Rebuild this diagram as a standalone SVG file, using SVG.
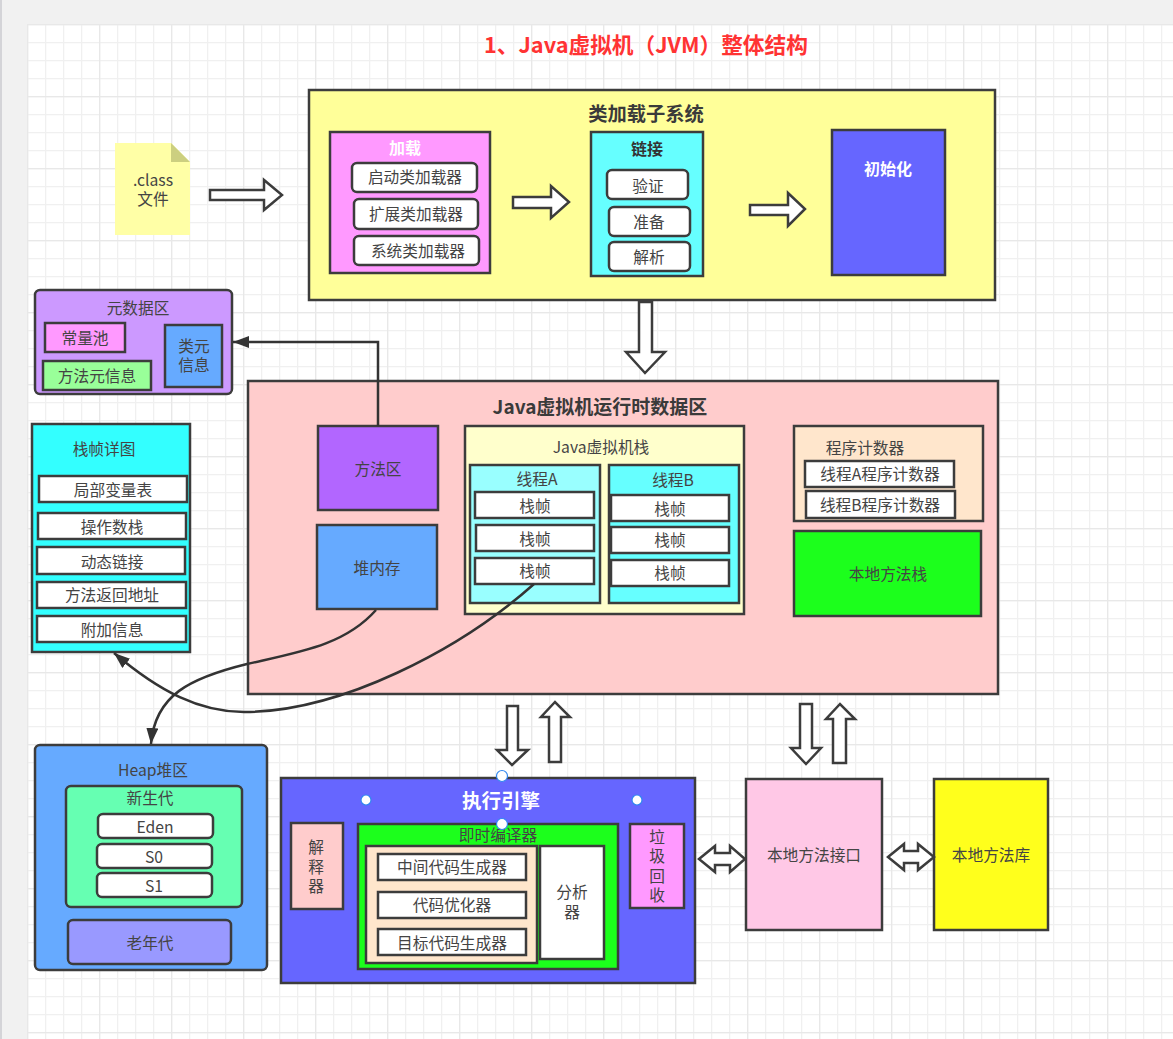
<svg xmlns="http://www.w3.org/2000/svg" width="1173" height="1039" viewBox="0 0 1173 1039">
<style>
text{font-family:"Noto Sans CJK SC","Liberation Sans",sans-serif;fill:#444;font-size:15.7px;text-anchor:middle}
.b{stroke:#3c3c3c;stroke-width:2.5}
.w{fill:#fff}
.t{font-weight:700;font-size:19px;fill:#3a3a3a}
.wt{font-weight:700;font-size:16px;fill:#fff}
.ar{fill:#fff;stroke:#3c3c3c;stroke-width:2.5}
.c{fill:none;stroke:#333;stroke-width:2.5}
.h{fill:#fff;stroke:#2f86f0;stroke-width:1.2}
</style>
<defs>
<pattern id="g1" x="27" y="24" width="18" height="18" patternUnits="userSpaceOnUse"><path d="M0.5 0V18M0 0.5H18" fill="none" stroke="#f0f0f0" stroke-width="1.5"/></pattern>
<pattern id="g2" x="27" y="24" width="72" height="72" patternUnits="userSpaceOnUse"><path d="M0.5 0V72M0 0.5H72" fill="none" stroke="#e8e8e8" stroke-width="1.5"/></pattern>
<marker id="m" markerUnits="userSpaceOnUse" markerWidth="18" markerHeight="14" refX="16" refY="6" orient="auto"><path d="M0 0L16 6L0 12Z" fill="#333"/></marker>
</defs>
<rect width="1173" height="1039" fill="#f1f1f1"/>
<rect width="2" height="1039" fill="#d4d4d8"/>
<rect x="27" y="24" width="1146" height="1015" fill="#fff"/>
<rect x="27" y="24" width="1146" height="1015" fill="url(#g1)"/>
<rect x="27" y="24" width="1146" height="1015" fill="url(#g2)"/>
<text x="646" y="53" style="font-size:21.7px;fill:#ff3333;font-weight:700">1、Java虚拟机（JVM）整体结构</text>

<g id="class-file"><path d="M115 143H171L190 162V235H115Z" fill="#ffffa6"/><path d="M171 143L190 162H171Z" fill="#cccf80"/><text x="153" y="186">.class<tspan x="153" dy="18.500">文件</tspan></text></g>

<g id="loader">
<rect x="309" y="90" width="686" height="210" fill="#ffff99" class="b"/>
<text x="646" y="121" class="t" style="font-size:19.3px">类加载子系统</text>
<g id="load"><rect x="330" y="132" width="160" height="141" fill="#ff99ff" class="b"/><text x="405" y="154" class="wt">加载</text>
<rect x="352" y="163" width="125" height="29" rx="5" class="b w"/><text x="415" y="183">启动类加载器</text>
<rect x="354" y="199" width="124" height="30" rx="5" class="b w"/><text x="416" y="220">扩展类加载器</text>
<rect x="354" y="236" width="125" height="29" rx="5" class="b w"/><text x="418" y="257">系统类加载器</text></g>
<g id="link"><rect x="591" y="132" width="112" height="144" fill="#66ffff" class="b"/><text x="647" y="155" class="wt" style="fill:#333">链接</text>
<rect x="607" y="170" width="81" height="29" rx="5" class="b w"/><text x="648" y="192">验证</text>
<rect x="609" y="207" width="81" height="29" rx="5" class="b w"/><text x="649" y="228">准备</text>
<rect x="609" y="242" width="81" height="29" rx="5" class="b w"/><text x="649" y="263">解析</text></g>
<g id="init"><rect x="832" y="130" width="113" height="145" fill="#6666ff" class="b"/><text x="888" y="175" class="wt">初始化</text></g>
</g>

<g id="meta">
<rect x="35" y="290" width="197" height="104" rx="5" fill="#cc99ff" class="b"/>
<text x="138" y="314">元数据区</text>
<rect x="45" y="323" width="80" height="29" fill="#ff99ff" class="b"/><text x="85" y="344">常量池</text>
<rect x="43" y="361" width="108" height="29" fill="#99ff99" class="b"/><text x="97" y="382">方法元信息</text>
<rect x="165" y="325" width="57" height="62" fill="#66aaff" class="b"/><text x="194" y="352">类元<tspan x="194" dy="19">信息</tspan></text>
</g>

<g id="frame">
<rect x="32" y="424" width="158" height="228" fill="#33ffff" class="b"/>
<text x="104" y="455">栈帧详图</text>
<rect x="39" y="476" width="148" height="26" class="b w"/><text x="113" y="496">局部变量表</text>
<rect x="38" y="513" width="148" height="26" class="b w"/><text x="112" y="533">操作数栈</text>
<rect x="37" y="547" width="148" height="27" class="b w"/><text x="112" y="568">动态链接</text>
<rect x="37" y="582" width="149" height="26" class="b w"/><text x="112" y="601">方法返回地址</text>
<rect x="37" y="616" width="149" height="26" class="b w"/><text x="112" y="636">附加信息</text>
</g>

<g id="runtime">
<rect x="248" y="381" width="750" height="313" fill="#ffcccc" class="b"/>
<text x="600" y="414" class="t">Java虚拟机运行时数据区</text>
<g id="method-area"><rect x="318" y="426" width="120" height="84" fill="#b266ff" class="b"/><text x="378" y="475">方法区</text></g>
<g id="heap-mem"><rect x="317" y="525" width="120" height="84" fill="#66aaff" class="b"/><text x="377" y="574">堆内存</text></g>
<g id="stack"><rect x="465" y="426" width="279" height="188" fill="#ffffcc" class="b"/><text x="601" y="453">Java虚拟机栈</text>
<rect x="470" y="465" width="130" height="138" fill="#99ffff" class="b"/><text x="537" y="485">线程A</text>
<rect x="475" y="492" width="119" height="26" class="b w"/><text x="535" y="512">栈帧</text>
<rect x="476" y="525" width="118" height="26" class="b w"/><text x="535" y="545">栈帧</text>
<rect x="475" y="558" width="119" height="26" class="b w"/><text x="535" y="577">栈帧</text>
<rect x="609" y="465" width="130" height="138" fill="#66ffff" class="b"/><text x="673" y="486">线程B</text>
<rect x="611" y="495" width="118" height="26" class="b w"/><text x="670" y="515">栈帧</text>
<rect x="611" y="527" width="118" height="26" class="b w"/><text x="670" y="546">栈帧</text>
<rect x="611" y="560" width="118" height="26" class="b w"/><text x="670" y="579">栈帧</text></g>
<g id="pc"><rect x="794" y="426" width="189" height="95" fill="#ffe6cc" class="b"/><text x="865" y="454">程序计数器</text>
<rect x="805" y="461" width="149" height="26" class="b w"/><text x="880" y="480">线程A程序计数器</text>
<rect x="806" y="491" width="149" height="27" class="b w"/><text x="880" y="511">线程B程序计数器</text></g>
<g id="native-stack"><rect x="794" y="531" width="187" height="85" fill="#1cff1c" class="b"/><text x="888" y="580">本地方法栈</text></g>
</g>

<g id="heap">
<rect x="35" y="745" width="232" height="225" rx="5" fill="#66aaff" class="b"/>
<text x="153" y="776">Heap堆区</text>
<rect x="66" y="786" width="176" height="121" rx="5" fill="#66ffb2" class="b"/><text x="150" y="804">新生代</text>
<rect x="98" y="814" width="115" height="24" rx="5" class="b w"/><text x="155" y="833">Eden</text>
<rect x="97" y="844" width="115" height="24" rx="5" class="b w"/><text x="154" y="863">S0</text>
<rect x="97" y="873" width="115" height="24" rx="5" class="b w"/><text x="154" y="892">S1</text>
<rect x="68" y="920" width="163" height="44" rx="5" fill="#9999ff" class="b"/><text x="150" y="949">老年代</text>
</g>

<g id="engine">
<rect x="281" y="778" width="414" height="205" fill="#6666ff" class="b"/>
<text x="501" y="808" class="t" style="fill:#fff;font-size:19.5px">执行引擎</text>
<rect x="291" y="823" width="52" height="86" fill="#ffcccc" class="b"/><text x="316" y="853">解<tspan x="316" dy="20">释</tspan><tspan x="316" dy="19">器</tspan></text>
<rect x="358" y="824" width="260" height="145" fill="#1cff1c" class="b"/><text x="498" y="841">即时编译器</text>
<rect x="366" y="846" width="171" height="117" fill="#ffe6cc" class="b"/>
<rect x="378" y="854" width="148" height="26" class="b w"/><text x="452" y="873">中间代码生成器</text>
<rect x="378" y="892" width="148" height="26" class="b w"/><text x="452" y="911">代码优化器</text>
<rect x="378" y="929" width="148" height="26" class="b w"/><text x="452" y="949">目标代码生成器</text>
<rect x="540" y="846" width="64" height="113" class="b w"/><text x="572" y="898">分析<tspan x="572" dy="20">器</tspan></text>
<rect x="630" y="824" width="54" height="84" fill="#ff99ff" class="b"/><text x="657" y="843">垃<tspan x="657" dy="19">圾</tspan><tspan x="657" dy="20">回</tspan><tspan x="657" dy="19">收</tspan></text>
</g>
<g id="native-if"><rect x="746" y="779" width="136" height="151" fill="#ffc8e6" class="b"/><text x="814" y="861">本地方法接口</text></g>
<g id="native-lib"><rect x="934" y="779" width="114" height="151" fill="#ffff1c" class="b"/><text x="991" y="861">本地方法库</text></g>

<g id="connectors">
<path class="ar" d="M210 190H264V180L282 195L264 210V200H210Z"/>
<path class="ar" d="M513 197H551V186L569 202L551 218V208H513Z"/>
<path class="ar" d="M750 205H788V193L805 209L788 226V215H750Z"/>
<path class="ar" d="M639 302H652V352H665L645 373L626 352H639Z"/>
<path class="ar" d="M507 706H518V750H528L512 765L497 750H507Z"/>
<path class="ar" d="M549 762H561V717H570L555 702L541 717H549Z"/>
<path class="ar" d="M800 704H812V748H821L806 764L791 748H800Z"/>
<path class="ar" d="M833 763H846V719H855L840 704L826 719H833Z"/>
<path class="ar" d="M699 859L715 846V853H730V846L745 859L730 872V865H715V872Z"/>
<path class="ar" d="M888 857L904 844V851H918V844L934 857L918 870V863H904V870Z"/>
<path class="c" d="M378 426V342H233" marker-end="url(#m)"/>
<path class="c" d="M376 610C345 645 300 652 247 664C190 678 155 695 151 744" marker-end="url(#m)"/>
<path class="c" d="M534 584C460 650 340 712 244 712C200 712 160 692 114 653" marker-end="url(#m)"/>
</g>
<g id="handles">
<circle class="h" cx="502" cy="776" r="5.5"/><circle class="h" cx="502" cy="824" r="5.5"/>
<circle class="h" cx="366" cy="800" r="5"/><circle class="h" cx="637" cy="800" r="5"/>
</g>
</svg>
